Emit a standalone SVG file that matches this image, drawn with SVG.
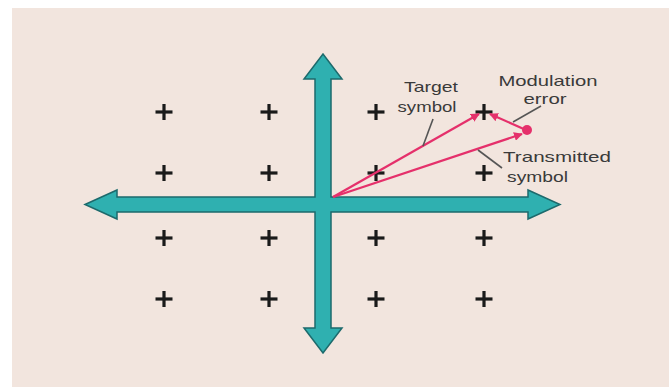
<svg xmlns="http://www.w3.org/2000/svg" width="669" height="387" viewBox="0 0 669 387">
<style>
.axis{fill:#2fb0b0;stroke:#1d6a6c;stroke-width:1.5;stroke-linejoin:miter}
.cross{stroke:#1a1a1a;stroke-width:3.2;stroke-linecap:butt}
.vec{stroke:#e5306b;stroke-width:2.2;fill:none}
.lead{stroke:#555;stroke-width:1.6}
.lbl{font-family:"Liberation Sans",Arial,sans-serif;font-size:15px;fill:#3a3a3a}
</style>
<defs>
<marker id="ah" viewBox="0 0 10 10" refX="9" refY="5" markerWidth="4" markerHeight="4" orient="auto" markerUnits="strokeWidth">
<path d="M0,0 L10,5 L0,10 z" fill="#e5306b"/>
</marker>
<g id="plus"><line class="cross" x1="-8.5" y1="0" x2="8.5" y2="0"/><line class="cross" x1="0" y1="-8" x2="0" y2="8"/></g>
</defs>
<rect x="0" y="0" width="669" height="387" fill="#ffffff"/>
<rect x="12" y="8" width="657" height="379" fill="#f2e5de"/>

<g id="axes">
<path class="axis" d="M85,204.5 L117,190 L117,197 L315,197 L315,79 L304,79 L323,54 L342,79 L331,79 L331,197 L528,197 L528,190 L560,204.5 L528,219 L528,212 L331,212 L331,328 L342,328 L323,353 L304,328 L315,328 L315,212 L117,212 L117,219 Z"/>
</g>

<g id="constellation">
<use href="#plus" x="164" y="112"/><use href="#plus" x="269" y="112"/><use href="#plus" x="376" y="112"/><use href="#plus" x="484" y="112"/>
<use href="#plus" x="164" y="173"/><use href="#plus" x="269" y="173"/><use href="#plus" x="376" y="173"/><use href="#plus" x="484" y="173"/>
<use href="#plus" x="164" y="238"/><use href="#plus" x="269" y="238"/><use href="#plus" x="376" y="238"/><use href="#plus" x="484" y="238"/>
<use href="#plus" x="164" y="299"/><use href="#plus" x="269" y="299"/><use href="#plus" x="376" y="299"/><use href="#plus" x="484" y="299"/>
</g>

<g id="connectors">
<line class="vec" x1="333" y1="197" x2="479" y2="114" marker-end="url(#ah)"/>
<line class="vec" x1="333" y1="197" x2="522" y2="134" marker-end="url(#ah)"/>
<line class="vec" x1="526" y1="130" x2="490" y2="114" marker-end="url(#ah)"/>
<line class="lead" x1="433" y1="119" x2="423" y2="146"/>
<line class="lead" x1="541" y1="106" x2="513" y2="122"/>
<line class="lead" x1="478" y1="150" x2="502" y2="168"/>
</g>

<g id="error-point"><circle cx="527" cy="130" r="5" fill="#e5306b"/></g>

<g id="label-target">
<text class="lbl" x="431" y="92" text-anchor="middle" textLength="54" lengthAdjust="spacingAndGlyphs">Target</text>
<text class="lbl" x="427" y="112" text-anchor="middle" textLength="59" lengthAdjust="spacingAndGlyphs">symbol</text>
</g>
<g id="label-modulation">
<text class="lbl" x="548" y="86" text-anchor="middle" textLength="99" lengthAdjust="spacingAndGlyphs">Modulation</text>
<text class="lbl" x="545" y="104" text-anchor="middle" textLength="43" lengthAdjust="spacingAndGlyphs">error</text>
</g>
<g id="label-transmitted">
<text class="lbl" x="503" y="162" textLength="108" lengthAdjust="spacingAndGlyphs">Transmitted</text>
<text class="lbl" x="507" y="182" textLength="61" lengthAdjust="spacingAndGlyphs">symbol</text>
</g>
</svg>
